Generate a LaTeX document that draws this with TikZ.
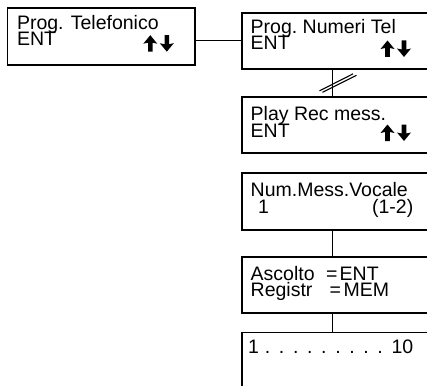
\documentclass[tikz,border=0pt]{standalone}
\usepackage{fontspec}
\setmainfont{Liberation Sans}
\usetikzlibrary{calc}
\begin{document}
\begin{tikzpicture}[x=1pt,y=-1pt,
  box/.style={draw, line width=1.7pt, outer sep=0pt, inner sep=0pt,
    anchor=north west, minimum height=56.5pt},
  lbox/.style={box, minimum width=187.5pt},
  rbox/.style={box, minimum width=220pt},
  txt/.style={inner sep=0pt, anchor=base west, text height=13.5pt, text depth=2.5pt,
    font=\fontsize{19.5}{16.5}\selectfont},
  link/.style={line width=1.1pt},
  % bold up / down scroll arrows
  updown/.pic={
    \fill (-7,8.5) -- (0,0) -- (7,8.5) -- (2.3,7.5) -- (2.3,16.5)
          -- (-2.3,16.5) -- (-2.3,7.5) -- cycle;
    \fill[xshift=16.5pt] (-7,8) -- (0,16.5) -- (7,8) -- (2.3,9) -- (2.3,0)
          -- (-2.3,0) -- (-2.3,9) -- cycle;
  }]
\useasboundingbox (0,0) rectangle (427,385);
\clip (0,0) rectangle (427,385);

% display boxes
\node[lbox] (tel) at (7.5,8.3) {};
\node[rbox] (numeri) at (242.3,12.7) {};
\node[rbox] (play) at (242.3,96.7) {};
\node[rbox] (vocale) at (242.3,173.3) {};
\node[rbox] (ascolto) at (242.3,256.7) {};
\node[rbox] (range) at (242.3,332.5) {};

% vertical spine of the right column
\coordinate (spine) at (332.7,0);

% display texts
\node[txt] (tel1) at (16.8,29.5) {Prog. Telefonico};
\node[txt] (tel2) at (16.8,46) {ENT};
\pic at (150.3,35.2) {updown};

\node[txt] (num1) at (250.5,33.3) {Prog.\ Numeri Tel};
\node[txt] (num2) at (250.5,50) {ENT};
\pic at (387.5,40.5) {updown};

\node[txt] (play1) at (250.5,120.5) {Play Rec mess.};
\node[txt] (play2) at (250.5,137) {ENT};
\pic at (387.5,124.5) {updown};

\node[txt] (voc1) at (250.5,196.7) {Num.Mess.Vocale};
\node[txt] (voc2) at (258,213.5) {1};
\node[txt, anchor=base east] (voc3) at (413.5,213.5) {(1-2)};

\node[txt] (asc1) at (250.5,280) {Ascolto};
\node[txt] (asc2) at (326,280) {=};
\node[txt] (asc3) at (339.5,280) {ENT};
\node[txt] (reg1) at (250.5,296) {Registr};
\node[txt] (reg2) at (329.5,296) {=};
\node[txt] (reg3) at (343.5,296) {MEM};

\node[txt] (rng1) at (248,353) {\makebox[165pt][s]{1 . . . . . . . . . 10}};

% connectors
\draw[link] (tel.east |- numeri.west) -- (numeri.west);
\draw[link] (numeri.south -| spine) -- (play.north -| spine);
\draw[link] (vocale.south -| spine) -- (ascolto.north -| spine);
\draw[link] (ascolto.south -| spine) -- (range.north -| spine);

% break mark on the link between the first two right boxes
\coordinate (gap) at ($(numeri.south -| spine)!0.5!(play.north -| spine)$);
\draw[link] ([shift={(-13.2,7.9)}]gap) -- ([shift={(20.3,-9.1)}]gap);
\draw[link] ([shift={(-10.2,9.4)}]gap) -- ([shift={(23.8,-7.6)}]gap);
\end{tikzpicture}
\end{document}
